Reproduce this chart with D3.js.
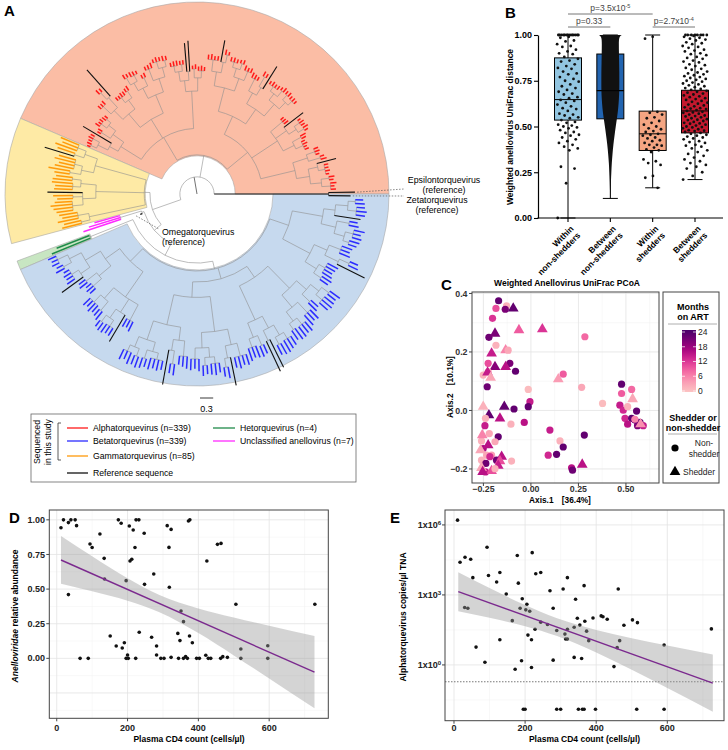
<!DOCTYPE html>
<html><head><meta charset="utf-8"><title>Anellovirus figure</title>
<script src="https://cdn.jsdelivr.net/npm/d3@7/dist/d3.min.js"></script>
<style>html,body{margin:0;padding:0;background:#fff;}svg{display:block;}</style>
</head><body>
<svg id="fig" width="728" height="750" xmlns="http://www.w3.org/2000/svg"></svg>
<script>
// ================= DATA =================
// Panel A: phylogeny (branch lengths in 0.01 substitutions/site; r/o/e/z = reference leaves)
const ezNewick = "(z50,e60)260";
const alphaParts = [
 "((((12,9,14)20,(10,13)18)25,((8,11,9,10)15,r45)22)30,((14,10)28,(9,12,11)20)35)80",
 "(((10,8,12,9)18,(11,14)22)28,(((9,13)15,(10,12,8)14)20,r55)30,(12,10,9)35)70",
 "((((8,10,9)12,(11,9)14)20,((12,8)16,(10,9,11,8)12)18)35,((r60,(10,12)25)20,(9,11,13)30)28)40",
 "(((11,9,12)22,((10,8)14,(9,11,10)12)20)30,(((8,12)18,r50)24,(10,9,13,11)26)32)55",
 "(((9,12,10)16,(11,8)20)30,((r70,r65)20,((10,9)15,(12,11,9)14)22)25)85",
 "((((10,12)14,(9,11,8)16)22,(13,10,9)28)32,((11,9)20,((8,10,12)15,(9,11)18)20)26)45",
 "(((12,9)18,(10,11,8,9)14)25,((r80,(10,12)20)30,(11,9,10)24)28)40",
 "((((9,11)12,(10,8,12)15)20,(11,9)24)30,(r75,((10,12,9)16,(11,8)14)25)22)55"
];
const alphaNewick = "((" + alphaParts[0] + "," + alphaParts[1] + ",(" + alphaParts[2] + "," + alphaParts[3] + ")45)60,(" +
  alphaParts[4] + ",(" + alphaParts[5] + "," + alphaParts[6] + ")50," + alphaParts[7] + ")60)50";
const gammaParts = [
 "(((45,38,52)20,(42,r70)22)30,((40,48,36,44)18,(50,35)25)28)120",
 "(((38,45)20,(48,40,42)18)35,(r80,(45,36)22,(40,50,44,38)24)30)110",
 "((42,36,48)25,(40,46)20)130"
];
const gammaNewick = "(" + gammaParts.join(",") + ")13";
const unclOmegaNewick = "((60,75,90)50,o5)5";
const hetNewick = "(80,95)105";
const betaParts = [
 "((((20,15,18)25,(16,22)20)30,((14,19,17,21)18,r60)25)40,((18,22)30,(15,20,17)25)35)40",
 "(((22,18,25,20)22,(19,24)26)32,(((17,21)18,(23,19,20)16)24,r70)35,(21,18,24)40)70",
 "((((25,20,28)15,(22,26)18)25,((24,19)20,(27,22,25,21)15)22)45,((r80,(22,26)30)25,(20,24,28)35)30)70",
 "(((26,22,28)25,((24,20)18,(25,27,22)15)22)35,(((21,26)20,r65)28,(24,28,22,25)30)36)80",
 "(((30,25,28)20,(26,22)24)35,((r75,r70)25,((24,28)18,(30,26,23)16)26)30)85",
 "((((25,30)16,(28,24,26)18)26,(30,24,27)32)36,((26,22)24,((25,29,27)18,(23,28)20)24)30)70",
 "(((22,26)20,(25,21,24,27)16)30,((r70,(24,20)24)34,(26,22,25)28)32)70",
 "((((20,24)14,(22,18,25)18)24,(23,19)28)34,(r60,((21,24,19)20,(22,18)16)28)26)70"
];
const betaNewick = "((" + betaParts[0] + "," + betaParts[1] + ")40,((" + betaParts[2] + "," + betaParts[3] + ")35,(" +
  betaParts[4] + "," + betaParts[5] + ")30)25,(" + betaParts[6] + "," + betaParts[7] + ")45)18";
const backboneNewick = "(EZ,ALPHA,(GAMMA,(UO,(HET,BETA)30)20)68)39";
const scaleBarValue = 0.3;
const legendLeft = ["Alphatorquevirus (n=339)", "Betatorquevirus (n=339)", "Gammatorquevirus (n=85)", "Reference sequence"];
const legendRight = ["Hetorquevirus (n=4)", "Unclassified anellovirus (n=7)"];

// Panel B: weighted UniFrac distances
const boxCategories = [["Within","non-shedders"],["Between","non-shedders"],["Within","shedders"],["Between","shedders"]];
const boxQ1 = [0.535, 0.542, 0.369, 0.465];
const boxMedian = [0.647, 0.696, 0.46, 0.585];
const boxQ3 = [0.875, 0.896, 0.584, 0.698];
const whiskerLow = [0.0, 0.107, 0.165, 0.21];
const whiskerHigh = [1.0, 1.0, 1.0, 1.0];
const bTicks = [0, 0.25, 0.5, 0.75, 1];
const withinNonShedders = [1,1,1,1,1,1,1,1,1,1,1,1,1,0.99,0.985,0.97,0.965,0.95,0.94,0.935,0.92,0.91,0.9,0.895,0.88,0.87,0.86,0.855,0.84,0.83,0.82,0.815,0.8,0.79,0.785,0.77,0.76,0.75,0.745,0.73,0.72,0.71,0.7,0.69,0.68,0.675,0.66,0.655,0.645,0.64,0.63,0.62,0.61,0.6,0.595,0.585,0.57,0.565,0.56,0.55,0.545,0.535,0.525,0.52,0.51,0.505,0.5,0.495,0.49,0.48,0.47,0.465,0.455,0.45,0.44,0.43,0.42,0.41,0.4,0.39,0.38,0.37,0.28,0.27,0.19,0.0];
const betweenNonShedBinValue = [0.11,0.15,0.2,0.25,0.3,0.35,0.4,0.45,0.5,0.55,0.6,0.65,0.7,0.75,0.8,0.85,0.9,0.95,0.99,1.0];
const betweenNonShedBinCount = [2,5,8,14,20,30,42,58,75,95,110,120,125,125,125,122,120,118,120,160];
const withinShedders = [0.99,0.98,0.58,0.575,0.565,0.55,0.545,0.53,0.52,0.51,0.5,0.49,0.485,0.475,0.47,0.46,0.455,0.45,0.44,0.435,0.425,0.42,0.41,0.4,0.4,0.395,0.385,0.375,0.37,0.36,0.32,0.31,0.3,0.29,0.23,0.22,0.165];
const betweenShedders = [1,1,1,1,1,1,1,1,0.995,0.99,0.985,0.98,0.975,0.97,0.96,0.955,0.95,0.94,0.935,0.93,0.92,0.915,0.91,0.9,0.895,0.89,0.88,0.875,0.87,0.86,0.855,0.85,0.84,0.835,0.83,0.82,0.815,0.81,0.8,0.795,0.79,0.785,0.78,0.775,0.77,0.765,0.76,0.755,0.75,0.745,0.74,0.735,0.73,0.725,0.72,0.715,0.71,0.705,0.7,0.695,0.69,0.685,0.68,0.675,0.67,0.665,0.66,0.655,0.65,0.645,0.64,0.635,0.63,0.625,0.62,0.615,0.61,0.605,0.6,0.598,0.595,0.59,0.585,0.58,0.577,0.575,0.57,0.565,0.56,0.557,0.555,0.55,0.545,0.54,0.537,0.535,0.53,0.525,0.52,0.517,0.515,0.51,0.505,0.5,0.497,0.495,0.49,0.485,0.48,0.477,0.475,0.47,0.465,0.46,0.455,0.45,0.445,0.44,0.435,0.43,0.42,0.415,0.41,0.4,0.395,0.39,0.38,0.37,0.36,0.35,0.34,0.33,0.32,0.31,0.3,0.29,0.28,0.27,0.25,0.23,0.21];
const sigTests = [
  {from:0, to:2, base:"p=3.5x10", exp:"-5", level:2},
  {from:0, to:1, base:"p=0.33", exp:"", level:1},
  {from:2, to:3, base:"p=2.7x10", exp:"-4", level:1}
];

// Panel C: PCoA  [Axis.1, Axis.2, months on ART, shedder(1)/non-shedder(0)]
const pcoaPoints = [
 [-0.170,0.375,22,0],[-0.184,0.349,10,0],[-0.128,0.358,2,0],[-0.135,0.346,20,0],[-0.093,0.349,22,1],
 [-0.202,0.315,12,0],[-0.221,0.250,21,0],[-0.189,0.263,20,1],[-0.063,0.275,9,1],[0.060,0.278,12,1],
 [0.284,0.252,8,0],[-0.184,0.223,2,0],[-0.133,0.206,6,1],[-0.120,0.206,3,0],[-0.207,0.195,14,1],
 [-0.111,0.161,20,0],[-0.081,0.134,22,0],[-0.189,0.149,19,1],[-0.133,0.149,15,1],[-0.225,0.161,10,0],
 [-0.251,0.121,2,0],[-0.225,0.132,4,0],[-0.228,0.130,14,1],[-0.230,0.081,21,0],[-0.212,0.112,3,1],
 [-0.014,0.072,1,0],[-0.005,0.030,14,0],[-0.014,0.013,22,0],[0.170,0.124,9,0],[0.144,0.107,4,1],
 [0.267,0.079,3,0],[0.377,0.024,1,0],[-0.251,0.013,2,1],[-0.140,0.013,22,1],[-0.089,0.005,22,0],
 [-0.221,-0.016,22,1],[-0.163,-0.027,15,1],[-0.239,-0.027,2,0],[-0.242,-0.052,14,0],[-0.035,-0.041,15,0],
 [-0.105,-0.047,2,0],[-0.172,-0.090,22,0],[0.153,-0.104,2,0],[0.100,-0.067,14,0],[0.281,-0.084,22,0],
 [0.170,-0.125,22,0],[0.135,-0.150,22,0],[0.091,-0.153,13,0],[0.214,-0.196,15,0],[0.219,-0.204,21,0],
 [0.270,-0.185,15,1],[0.477,0.090,22,0],[0.477,0.058,9,0],[0.530,0.072,8,0],[0.468,0.018,14,0],
 [0.486,0.001,13,0],[0.509,0.013,2,0],[0.535,0.039,3,1],[0.495,-0.027,13,0],[0.556,-0.002,22,0],
 [0.530,-0.027,22,0],[0.547,-0.033,21,0],[0.574,-0.041,23,0],[0.561,-0.052,20,0],[0.509,-0.047,15,0],
 [0.591,-0.052,14,0],[0.547,-0.030,6,0],[0.577,-0.047,5,1],[-0.260,-0.104,2,0],[-0.251,-0.130,16,0],
 [-0.265,-0.136,3,1],[-0.225,-0.119,15,1],[-0.233,-0.153,3,0],[-0.207,-0.153,4,0],[-0.260,-0.170,2,0],
 [-0.237,-0.181,21,0],[-0.181,-0.170,21,0],[-0.154,-0.158,15,1],[-0.163,-0.173,10,1],[-0.172,-0.189,14,1],
 [-0.239,-0.210,14,0],[-0.207,-0.207,10,1],[-0.260,-0.196,3,1],[-0.102,-0.173,2,0],[-0.189,-0.199,2,0],
 [-0.189,-0.107,3,0],[-0.219,-0.079,3,0],[-0.256,-0.084,6,1],[-0.216,-0.158,13,0],[-0.254,-0.210,15,1]
];
const cXTicks = [-0.25, 0, 0.25, 0.5];
const cYTicks = [-0.2, 0, 0.2, 0.4];
const monthsTicks = [0, 6, 12, 18, 24];

// Panel D: CD4 count vs Anelloviridae relative abundance
const cd4VsAbundance = [
 [12,0.943],[19,1],[33,0.98],[40,1],[52,1],[56,0.958],[33,0.46],[66,0],[89,0],[122,0.898],[94,0.826],[100,0.8],
 [134,0.722],[135,0.573],[151,0.161],[168,0.089],[174,1],[182,0.975],[185,0.075],[191,0.113],[196,0.561],[196,0],
 [200,0.024],[202,0],[205,0.955],[207,0.703],[212,0.715],[216,0.927],[221,0.8],[223,0],[224,1],[232,1],[233,0.188],
 [247,0.903],[248,0.534],[268,0.152],[274,0.609],[282,0.089],[282,0.024],[294,0],[303,0],[312,0.958],[317,0.801],
 [318,0.513],[323,0.931],[323,0.007],[342,0.18],[344,0],[348,0.128],[351,0.342],[358,0.265],[358,0],[364,0.012],
 [369,0],[372,0.992],[376,1],[375,0.161],[383,0.113],[395,0],[403,0],[421,0.022],[424,0.703],[428,0],[435,0],
 [454,0.823],[464,0.83],[463,0],[469,0.012],[482,0.007],[506,0.39],[520,0.067],[520,0],[596,0.091],[596,0],[729,0.39]
];
const fitD = [[12, 0.71], [728, -0.10]];
const bandDx = [12, 100, 200, 290, 400, 500, 600, 728];
const bandDlow = [0.538, 0.484, 0.416, 0.333, 0.182, 0.021, -0.145, -0.361];
const bandDhigh = [0.883, 0.737, 0.578, 0.457, 0.360, 0.294, 0.235, 0.161];
const dYTicks = [0, 0.25, 0.5, 0.75, 1];
const cd4Ticks = [0, 200, 400, 600];

// Panel E: CD4 count vs Alphatorquevirus copies/µl TNA (0 = not detected)
const cd4VsAlpha = [
 [10,1.6e6],[17,2.5e4],[31,4.1e4],[47,3.4e4],[53,5.5e3],[30,290],[39,270],[62,5.8],[87,1.3],[93,1.1e5],[97,6.8e3],
 [120,3.6e3],[129,9.1e3],[129,12],[147,1.1e3],[164,79],[172,0.65],[178,4.9e4],[181,3.2e3],[190,1.5],[218,0.78],
 [186,270],[192,690],[202,230],[205,400],[213,200],[208,19],[218,12],[220,6.5e4],[228,34],[230,8.1e3],[244,9.1e3],
 [244,68],[263,54],[270,1.5e3],[279,270],[279,1.6],[289,30],[307,1.8e3],[312,21],[314,13],[319,13],[319,5.5e3],
 [319,34],[338,41],[338,2.1],[342,650],[347,100],[354,51],[359,1.9],[366,2.5e3],[368,74],[373,28],[379,11],
 [391,102],[414,126],[419,117],[431,91],[450,0.85],[459,5.5],[462,1.8e3],[466,11],[478,50],[502,85],[516,65],
 [591,7.2],[724,35],
 [195,0],[200,0],[289,0],[300,0],[350,0],[361,0],[366,0],[398,0],[514,0],[591,0]
];
const fitE = [[12, 1380], [728, 0.166]];
const bandEx = [12, 100, 200, 290, 400, 500, 600, 728];
const bandElow = [202, 105, 45.6, 17.2, 3.41, 0.615, 0.102, 0.0098];
const bandEhigh = [9440, 1970, 366, 100, 31.5, 14.0, 6.81, 2.82];
const detectionLimitE = 0.19;
const notDetectedPlotValue = 0.0126;
const eYTicks = [{v:1, e:"0"}, {v:1e3, e:"3"}, {v:1e6, e:"6"}];

// ================= DRAWING =================
const FF = "'Liberation Sans', Arial, Helvetica, sans-serif";
const svg = d3.select("#fig").style("font-family", FF);

function label(x, y, s, size, opts) {
  opts = opts || {};
  const t = svg.append("text").attr("x", x).attr("y", y).attr("font-size", size)
    .attr("font-weight", opts.bold ? "bold" : "normal").attr("fill", opts.fill || "#000")
    .attr("text-anchor", opts.anchor || "start").text(s);
  if (opts.dy) t.attr("dy", opts.dy);
  if (opts.rotate) t.attr("transform", `rotate(${opts.rotate},${x},${y})`);
  return t;
}
[["A",4,16],["B",505,18],["C",441,290],["D",9,523],["E",390,523]].forEach(p => label(p[1], p[2], p[0], 15, {bold:true}));

// ---------- Panel A: circular phylogram ----------
function parseNewick(s) {
  let i = 0;
  function node() {
    const n = {children: []};
    if (s[i] === "(") {
      i++;
      n.children.push(node());
      while (s[i] === ",") { i++; n.children.push(node()); }
      i++;
    }
    const m = /^([A-Za-z]*)(\d*)/.exec(s.slice(i));
    i += m[0].length;
    n.tag = m[1]; n.len = m[2] ? (+m[2]) / 100 : 0;
    return n;
  }
  return node();
}
function tagClade(n, c) { n.clade = c; n.children.forEach(ch => tagClade(ch, c)); return n; }
const cladeTrees = {
  EZ: tagClade(parseNewick(ezNewick), "ref"),
  ALPHA: tagClade(parseNewick(alphaNewick), "alpha"),
  GAMMA: tagClade(parseNewick(gammaNewick), "gamma"),
  UO: tagClade(parseNewick(unclOmegaNewick), "uncl"),
  HET: tagClade(parseNewick(hetNewick), "het"),
  BETA: tagClade(parseNewick(betaNewick), "beta")
};
function substitute(n) {
  if (!n.children.length && cladeTrees[n.tag]) return cladeTrees[n.tag];
  n.clade = "backbone";
  n.children = n.children.map(substitute);
  return n;
}
const treeData = substitute(parseNewick(backboneNewick));
const root = d3.hierarchy(treeData, d => d.children.length ? d.children : null);
root.eachBefore(d => { d.rad = (d.parent ? d.parent.rad : 0) + d.data.len; });
const leaves = root.leaves();
const N = leaves.length, step = 360 / N, theta0 = 0.7;
const thetaS = d3.scaleLinear().domain([0, N]).range([theta0, theta0 - 360]);
leaves.forEach((d, i) => { d.theta = thetaS(i); });
root.eachAfter(d => { if (d.children) d.theta = (d.children[0].theta + d.children[d.children.length - 1].theta) / 2; });

const cx = 197, cy = 194, outerR = 192;
const rS = d3.scaleLinear().domain([0, 1]).range([0, 44]);
const P = (r, t) => [cx + rS(r) * Math.cos(t * Math.PI / 180), cy + rS(r) * Math.sin(t * Math.PI / 180)];
const gA = svg.append("g");

const wedges = [
  {key:"ALPHA", fill:"#fbbda5", hi:0},
  {key:"GAMMA", fill:"#feeaa5"},
  {key:"HET", fill:"#c8e6c2"},
  {key:"BETA", fill:"#c6d9ee", lo:-360}
];
wedges.forEach(w => {
  const node = root.descendants().find(d => d.data === cladeTrees[w.key]);
  const lv = node.leaves();
  let hi = lv[0].theta + step / 2, lo = lv[lv.length - 1].theta - step / 2;
  if (w.hi !== undefined) hi = w.hi;
  if (w.lo !== undefined) lo = w.lo;
  const path = d3.arc()({innerRadius: rS(node.rad) - 1, outerRadius: outerR,
    startAngle: (lo + 90) * Math.PI / 180, endAngle: (hi + 90) * Math.PI / 180});
  gA.append("path").attr("d", path).attr("transform", `translate(${cx},${cy})`)
    .attr("fill", w.fill).attr("stroke", "#a8a8a8").attr("stroke-width", 0.6);
});

const tipColor = {alpha:"#ff1a1a", beta:"#2b2bff", gamma:"#ff9a0a", het:"#1f8a4a", uncl:"#ff2bff", ref:"#111"};
const isRefLeaf = d => ["r", "o", "e", "z"].includes(d.data.tag);
function edgeColor(d) {
  if (!d.parent) return "#111";
  if (!d.children) return isRefLeaf(d) ? "#111" : tipColor[d.data.clade];
  return d.data.clade === "ref" ? "#111" : "#8f8f8f";
}
const gBr = gA.append("g").attr("fill", "none").attr("stroke-linecap", "butt");
root.descendants().forEach(d => {
  const p0 = P(d.parent ? d.parent.rad : 0, d.theta), p1 = P(d.rad, d.theta);
  const w = d.children ? (d.data.clade === "ref" ? 1 : 0.6) : (isRefLeaf(d) ? 1.1 : 1.5);
  gBr.append("line").attr("x1", p0[0]).attr("y1", p0[1]).attr("x2", p1[0]).attr("y2", p1[1])
    .attr("stroke", edgeColor(d)).attr("stroke-width", w);
  if (d.children && d.children.length > 1) {
    const a0 = d.children[0].theta, a1 = d.children[d.children.length - 1].theta;
    const q0 = P(d.rad, a0), q1 = P(d.rad, a1), rr = rS(d.rad);
    const large = Math.abs(a0 - a1) > 180 ? 1 : 0;
    gBr.append("path").attr("d", `M${q0[0]},${q0[1]}A${rr},${rr} 0 ${large} 0 ${q1[0]},${q1[1]}`)
      .attr("stroke", d.data.clade === "ref" ? "#111" : "#8f8f8f").attr("stroke-width", 0.6);
  }
});
const leafE = leaves.find(d => d.data.tag === "e"), leafZ = leaves.find(d => d.data.tag === "z"), leafO = leaves.find(d => d.data.tag === "o");
[[leafE, 189], [leafZ, 196]].forEach(([lf, yy]) => {
  const p = P(lf.rad + 0.05, lf.theta);
  gA.append("line").attr("x1", p[0]).attr("y1", p[1]).attr("x2", 404).attr("y2", yy)
    .attr("stroke", "#555").attr("stroke-width", 0.7).attr("stroke-dasharray", "1.5,1.5");
});
{
  const p = P(leafO.rad + 0.1, leafO.theta);
  gA.append("line").attr("x1", p[0]).attr("y1", p[1]).attr("x2", 159).attr("y2", 229)
    .attr("stroke", "#555").attr("stroke-width", 0.7).attr("stroke-dasharray", "1.5,1.5");
}
label(444, 180, "Epsilontorquevirus", 8.8, {anchor:"middle", dy:"0.35em"});
label(444, 190, "(reference)", 8.8, {anchor:"middle", dy:"0.35em"});
label(437, 199.5, "Zetatorquevirus", 8.8, {anchor:"middle", dy:"0.35em"});
label(437, 209.5, "(reference)", 8.8, {anchor:"middle", dy:"0.35em"});
label(162, 232, "Omegatorquevirus", 8.8, {dy:"0.35em"});
label(162, 242, "(reference)", 8.8, {dy:"0.35em"});
svg.append("line").attr("x1", 200).attr("x2", 200 + rS(scaleBarValue)).attr("y1", 398).attr("y2", 398).attr("stroke", "#222").attr("stroke-width", 0.9);
label(200 + rS(scaleBarValue) / 2, 409, String(scaleBarValue), 9, {anchor:"middle", dy:"0.35em"});
svg.append("rect").attr("x", 31).attr("y", 414).attr("width", 325).attr("height", 68).attr("fill", "#fff").attr("stroke", "#666").attr("stroke-width", 0.8);
label(37, 442, "Sequenced", 8.7, {anchor:"middle", dy:"0.35em", rotate:-90});
label(47.5, 442, "in this study", 8.7, {anchor:"middle", dy:"0.35em", rotate:-90});
svg.append("path").attr("d", "M61,423H58V460H61").attr("fill", "none").attr("stroke", "#333").attr("stroke-width", 0.8);
const legColsL = ["#ff1a1a", "#2b2bff", "#ff9a0a", "#111"], legYL = [428, 441, 456, 473];
legendLeft.forEach((s, i) => {
  svg.append("line").attr("x1", 67).attr("x2", 88).attr("y1", legYL[i]).attr("y2", legYL[i]).attr("stroke", legColsL[i]).attr("stroke-width", 1.3);
  label(93, legYL[i], s, 8.7, {dy:"0.35em"});
});
const legColsR = ["#1f8a4a", "#ff2bff"];
legendRight.forEach((s, i) => {
  svg.append("line").attr("x1", 213).attr("x2", 235).attr("y1", legYL[i]).attr("y2", legYL[i]).attr("stroke", legColsR[i]).attr("stroke-width", 1.3);
  label(240, legYL[i], s, 8.7, {dy:"0.35em"});
});

// ---------- Panel B: box plots ----------
const yB = d3.scaleLinear().domain([0, 1]).range([218, 35]);
const xB = d3.scalePoint().domain(d3.range(boxCategories.length)).range([568, 695]);
const boxFill = ["#92c5e0", "#2264b0", "#f4a582", "#c3192e"];
const boxW = 27, capW = 15;
const gB = svg.append("g");
function jitter(i, w) { const f = (i * 0.6180339887 + 0.5) % 1; return (f - 0.5) * w; }
boxCategories.forEach((c, i) => {
  const x = xB(i);
  gB.append("line").attr("x1", x).attr("x2", x).attr("y1", yB(whiskerLow[i])).attr("y2", yB(whiskerHigh[i])).attr("stroke", "#000").attr("stroke-width", 1);
  [whiskerLow[i], whiskerHigh[i]].forEach(v => gB.append("line").attr("x1", x - capW / 2).attr("x2", x + capW / 2).attr("y1", yB(v)).attr("y2", yB(v)).attr("stroke", "#000").attr("stroke-width", 1));
  gB.append("rect").attr("x", x - boxW / 2).attr("y", yB(boxQ3[i])).attr("width", boxW).attr("height", yB(boxQ1[i]) - yB(boxQ3[i]))
    .attr("fill", boxFill[i]).attr("stroke", "#000").attr("stroke-width", 1);
  gB.append("line").attr("x1", x - boxW / 2).attr("x2", x + boxW / 2).attr("y1", yB(boxMedian[i])).attr("y2", yB(boxMedian[i])).attr("stroke", "#000").attr("stroke-width", 1);
});
const massW = d3.scaleLinear().domain([0, 160]).range([0, 11.5]);
const massData = betweenNonShedBinValue.map((v, i) => [v, betweenNonShedBinCount[i]]);
gB.append("path").datum(massData).attr("fill", "#111")
  .attr("d", d3.area().curve(d3.curveBasis).y(d => yB(d[0])).x0(d => xB(1) - massW(d[1])).x1(d => xB(1) + massW(d[1])));
gB.append("line").attr("x1", xB(1) - boxW / 2).attr("x2", xB(1) + boxW / 2).attr("y1", yB(boxMedian[1])).attr("y2", yB(boxMedian[1])).attr("stroke", "#000").attr("stroke-width", 1);
[[0, withinNonShedders, 22], [2, withinShedders, 20], [3, betweenShedders, 25]].forEach(([ci, vals, w]) => {
  gB.selectAll(null).data(vals).join("circle").attr("cx", (d, j) => xB(ci) + jitter(j, w)).attr("cy", d => yB(d)).attr("r", 1.4).attr("fill", "#111");
});
const axB = svg.append("g").attr("transform", "translate(538,0)")
  .call(d3.axisLeft(yB).tickValues(bTicks).tickFormat(d3.format(".2f")).tickSize(4).tickSizeOuter(0));
axB.select(".domain").attr("stroke", "#000").attr("stroke-width", 1.2);
axB.selectAll(".tick line").attr("stroke", "#000").attr("stroke-width", 1.1);
axB.selectAll(".tick text").attr("font-family", FF).attr("font-size", 9).attr("font-weight", "bold").attr("fill", "#000").attr("x", -6);
svg.append("line").attr("x1", 537.4).attr("x2", 723).attr("y1", 218).attr("y2", 218).attr("stroke", "#000").attr("stroke-width", 1.2);
boxCategories.forEach((c, i) => {
  svg.append("line").attr("x1", xB(i)).attr("x2", xB(i)).attr("y1", 218).attr("y2", 222).attr("stroke", "#000").attr("stroke-width", 1.1);
  const t = svg.append("text").attr("transform", `translate(${xB(i) + 2},${225}) rotate(-45)`)
    .attr("text-anchor", "end").attr("font-size", 8.5).attr("font-weight", "bold");
  t.append("tspan").attr("x", 0).attr("dy", "0.7em").text(c[0]);
  t.append("tspan").attr("x", 0).attr("dy", "1.12em").text(c[1]);
});
label(510, 127, "Weighted anellovirus UniFrac distance", 8.5, {bold:true, anchor:"middle", rotate:-90, dy:"0.35em"});
const sigY = {1: 27, 2: 14};
sigTests.forEach(s => {
  const y = sigY[s.level];
  svg.append("line").attr("x1", xB(s.from)).attr("x2", xB(s.to)).attr("y1", y).attr("y2", y).attr("stroke", "#666").attr("stroke-width", 0.9);
  const t = svg.append("text").attr("x", (xB(s.from) + xB(s.to)) / 2).attr("y", y - 3).attr("text-anchor", "middle").attr("font-size", 8.5).attr("fill", "#444");
  t.append("tspan").text(s.base);
  if (s.exp) t.append("tspan").attr("dy", -3.5).attr("font-size", 5.5).text(s.exp);
});

// ---------- Panel C: PCoA ----------
const xC = d3.scaleLinear().domain([-0.31, 0.674]).range([472, 659]);
const yC = d3.scaleLinear().domain([-0.248, 0.405]).range([483, 292]);
const monthsColor = v => d3.interpolateRdPu(0.25 + 0.75 * v / 24);
const gC = svg.append("g");
gC.append("rect").attr("x", 472).attr("y", 292).attr("width", 187).attr("height", 191).attr("fill", "#fff");
[-0.125, 0.125, 0.375, 0.625].forEach(v => gC.append("line").attr("x1", xC(v)).attr("x2", xC(v)).attr("y1", 292).attr("y2", 483).attr("stroke", "#f0f0f0").attr("stroke-width", 0.5));
[-0.1, 0.1, 0.3].forEach(v => gC.append("line").attr("y1", yC(v)).attr("y2", yC(v)).attr("x1", 472).attr("x2", 659).attr("stroke", "#f0f0f0").attr("stroke-width", 0.5));
cXTicks.forEach(v => gC.append("line").attr("x1", xC(v)).attr("x2", xC(v)).attr("y1", 292).attr("y2", 483).attr("stroke", "#e3e3e3").attr("stroke-width", 0.8));
cYTicks.forEach(v => gC.append("line").attr("y1", yC(v)).attr("y2", yC(v)).attr("x1", 472).attr("x2", 659).attr("stroke", "#e3e3e3").attr("stroke-width", 0.8));
const triSym = d3.symbol().type(d3.symbolTriangle).size(50);
pcoaPoints.forEach(p => {
  if (p[3]) gC.append("path").attr("d", triSym).attr("transform", `translate(${xC(p[0])},${yC(p[1])})`).attr("fill", monthsColor(p[2]));
  else gC.append("circle").attr("cx", xC(p[0])).attr("cy", yC(p[1])).attr("r", 3.6).attr("fill", monthsColor(p[2]));
});
gC.append("rect").attr("x", 472).attr("y", 292).attr("width", 187).attr("height", 191).attr("fill", "none").attr("stroke", "#444").attr("stroke-width", 1);
cXTicks.forEach(v => {
  gC.append("line").attr("x1", xC(v)).attr("x2", xC(v)).attr("y1", 483).attr("y2", 486).attr("stroke", "#444");
  label(xC(v), 489, d3.format(".2f")(v).replace("-", "\u2212"), 8.8, {bold:true, anchor:"middle", dy:"0.35em", fill:"#333"});
});
cYTicks.forEach(v => {
  gC.append("line").attr("x1", 469).attr("x2", 472).attr("y1", yC(v)).attr("y2", yC(v)).attr("stroke", "#444");
  label(467.5, yC(v), d3.format(".1f")(v).replace("-", "\u2212"), 8.8, {bold:true, anchor:"end", dy:"0.35em", fill:"#333"});
});
label(567, 286, "Weighted Anellovirus UniFrac PCoA", 8.5, {bold:true, anchor:"middle"});
label(560, 500.5, "Axis.1\u2003[36.4%]", 8.3, {bold:true, anchor:"middle", dy:"0.35em"});
label(450, 387, "Axis.2\u2003[10.1%]", 8.3, {bold:true, anchor:"middle", dy:"0.35em", rotate:-90});
gC.append("rect").attr("x", 663).attr("y", 292).attr("width", 56).attr("height", 191).attr("fill", "#fff").attr("stroke", "#444").attr("stroke-width", 1);
label(693, 307, "Months", 9, {bold:true, anchor:"middle", dy:"0.35em"});
label(693, 317, "on ART", 9, {bold:true, anchor:"middle", dy:"0.35em"});
gC.append("line").attr("x1", 668).attr("x2", 717).attr("y1", 324).attr("y2", 324).attr("stroke", "#999").attr("stroke-width", 0.8);
const defs = svg.append("defs");
const grad = defs.append("linearGradient").attr("id", "monthsGrad").attr("x1", 0).attr("y1", 1).attr("x2", 0).attr("y2", 0);
d3.range(0, 25, 2).forEach(v => grad.append("stop").attr("offset", v / 24).attr("stop-color", monthsColor(v)));
const yBar = d3.scaleLinear().domain([0, 24]).range([391, 332]);
gC.append("rect").attr("x", 682).attr("y", 330).attr("width", 14).attr("height", 62).attr("fill", "url(#monthsGrad)");
monthsTicks.forEach(v => {
  gC.append("line").attr("x1", 682).attr("x2", 685).attr("y1", yBar(v)).attr("y2", yBar(v)).attr("stroke", "#fff").attr("stroke-width", 0.7);
  gC.append("line").attr("x1", 693).attr("x2", 696).attr("y1", yBar(v)).attr("y2", yBar(v)).attr("stroke", "#fff").attr("stroke-width", 0.7);
  label(698, yBar(v), String(v), 8.5, {dy:"0.35em", fill:"#222"});
});
label(693, 418, "Shedder or", 9, {bold:true, anchor:"middle", dy:"0.35em"});
label(693, 427.5, "non-shedder", 9, {bold:true, anchor:"middle", dy:"0.35em"});
gC.append("line").attr("x1", 668).attr("x2", 717).attr("y1", 434).attr("y2", 434).attr("stroke", "#999").attr("stroke-width", 0.8);
gC.append("circle").attr("cx", 675).attr("cy", 448).attr("r", 3.6).attr("fill", "#000");
label(704, 443, "Non-", 8.5, {anchor:"middle", dy:"0.35em", fill:"#222"});
label(704, 454, "shedder", 8.5, {anchor:"middle", dy:"0.35em", fill:"#222"});
gC.append("path").attr("d", triSym).attr("transform", "translate(675,472)").attr("fill", "#000");
label(683, 472, "Shedder", 8.5, {dy:"0.35em", fill:"#222"});

// ---------- Panels D and E ----------
function ggPanel(x0, y0, x1, y1, xS, yS, xMajor, xMinor, yMajor, yMinor) {
  const g = svg.append("g");
  g.append("rect").attr("x", x0).attr("y", y0).attr("width", x1 - x0).attr("height", y1 - y0).attr("fill", "#fff");
  xMinor.forEach(v => g.append("line").attr("x1", xS(v)).attr("x2", xS(v)).attr("y1", y0).attr("y2", y1).attr("stroke", "#f0f0f0").attr("stroke-width", 0.5));
  yMinor.forEach(v => g.append("line").attr("y1", yS(v)).attr("y2", yS(v)).attr("x1", x0).attr("x2", x1).attr("stroke", "#f0f0f0").attr("stroke-width", 0.5));
  xMajor.forEach(v => g.append("line").attr("x1", xS(v)).attr("x2", xS(v)).attr("y1", y0).attr("y2", y1).attr("stroke", "#e3e3e3").attr("stroke-width", 0.8));
  yMajor.forEach(v => g.append("line").attr("y1", yS(v)).attr("y2", yS(v)).attr("x1", x0).attr("x2", x1).attr("stroke", "#e3e3e3").attr("stroke-width", 0.8));
  return g;
}
function frame(g, x0, y0, x1, y1) {
  g.append("rect").attr("x", x0).attr("y", y0).attr("width", x1 - x0).attr("height", y1 - y0).attr("fill", "none").attr("stroke", "#444").attr("stroke-width", 1);
}
const xD = d3.scaleLinear().domain([-21, 767]).range([49.3, 328.3]);
const yD = d3.scaleLinear().domain([-0.433, 1.071]).range([718.3, 510]);
const gD = ggPanel(49.3, 510, 328.3, 718.3, xD, yD, cd4Ticks, [100, 300, 500, 700], [-0.25, 0, 0.25, 0.5, 0.75, 1], [-0.375, -0.125, 0.125, 0.375, 0.625, 0.875]);
gD.selectAll(null).data(cd4VsAbundance).join("circle").attr("cx", d => xD(d[0])).attr("cy", d => yD(d[1])).attr("r", 1.8).attr("fill", "#111");
const bandD = bandDx.map((x, i) => [x, bandDlow[i], bandDhigh[i]]);
gD.append("path").datum(bandD).attr("fill", "#999").attr("fill-opacity", 0.42)
  .attr("d", d3.area().curve(d3.curveMonotoneX).x(d => xD(d[0])).y0(d => yD(d[1])).y1(d => yD(d[2])));
gD.append("line").attr("x1", xD(fitD[0][0])).attr("y1", yD(fitD[0][1])).attr("x2", xD(fitD[1][0])).attr("y2", yD(fitD[1][1])).attr("stroke", "#7b2a8e").attr("stroke-width", 1.4);
frame(gD, 49.3, 510, 328.3, 718.3);
dYTicks.forEach(v => {
  gD.append("line").attr("x1", 46.3).attr("x2", 49.3).attr("y1", yD(v)).attr("y2", yD(v)).attr("stroke", "#444");
  label(45, yD(v), d3.format(".2f")(v), 9, {bold:true, anchor:"end", dy:"0.35em", fill:"#222"});
});
cd4Ticks.forEach(v => {
  gD.append("line").attr("x1", xD(v)).attr("x2", xD(v)).attr("y1", 718.3).attr("y2", 721.3).attr("stroke", "#444");
  label(xD(v), 728, String(v), 9, {bold:true, anchor:"middle", dy:"0.35em", fill:"#222"});
});
label(189, 739.5, "Plasma CD4 count (cells/\u00b5l)", 8.5, {bold:true, anchor:"middle", dy:"0.35em"});
{
  const t = svg.append("text").attr("transform", "translate(15,616) rotate(-90)").attr("text-anchor", "middle").attr("dy", "0.35em")
    .attr("font-size", 8.5).attr("font-weight", "bold");
  t.append("tspan").attr("font-style", "italic").text("Anelloviridae");
  t.append("tspan").text(" relative abundance");
}
const xE = d3.scaleLinear().domain([-25.3, 759.5]).range([445, 724]);
const yE = d3.scaleLog().domain([Math.pow(10, -2.39), Math.pow(10, 6.64)]).range([720.7, 510]);
const gE = ggPanel(445, 510, 724, 720.7, xE, yE, cd4Ticks, [100, 300, 500, 700], [1, 1e3, 1e6], [Math.pow(10, -1.5), Math.pow(10, 1.5), Math.pow(10, 4.5)]);
gE.append("line").attr("x1", 445).attr("x2", 724).attr("y1", yE(detectionLimitE)).attr("y2", yE(detectionLimitE)).attr("stroke", "#555").attr("stroke-width", 0.8).attr("stroke-dasharray", "1.5,1.5");
gE.selectAll(null).data(cd4VsAlpha).join("circle").attr("cx", d => xE(d[0])).attr("cy", d => yE(d[1] > 0 ? d[1] : notDetectedPlotValue)).attr("r", 1.8).attr("fill", "#111");
const bandE = bandEx.map((x, i) => [x, bandElow[i], bandEhigh[i]]);
gE.append("path").datum(bandE).attr("fill", "#999").attr("fill-opacity", 0.42)
  .attr("d", d3.area().curve(d3.curveMonotoneX).x(d => xE(d[0])).y0(d => yE(d[1])).y1(d => yE(d[2])));
gE.append("line").attr("x1", xE(fitE[0][0])).attr("y1", yE(fitE[0][1])).attr("x2", xE(fitE[1][0])).attr("y2", yE(fitE[1][1])).attr("stroke", "#7b2a8e").attr("stroke-width", 1.4);
frame(gE, 445, 510, 724, 720.7);
eYTicks.forEach(tk => {
  gE.append("line").attr("x1", 442).attr("x2", 445).attr("y1", yE(tk.v)).attr("y2", yE(tk.v)).attr("stroke", "#444");
  const t = svg.append("text").attr("x", 441).attr("y", yE(tk.v)).attr("dy", "0.35em").attr("text-anchor", "end").attr("font-size", 9).attr("font-weight", "bold").attr("fill", "#222");
  t.append("tspan").text("1x10");
  t.append("tspan").attr("dy", -3.5).attr("font-size", 6).text(tk.e);
});
cd4Ticks.forEach(v => {
  gE.append("line").attr("x1", xE(v)).attr("x2", xE(v)).attr("y1", 720.7).attr("y2", 723.7).attr("stroke", "#444");
  label(xE(v), 728, String(v), 9, {bold:true, anchor:"middle", dy:"0.35em", fill:"#222"});
});
label(584.5, 739.5, "Plasma CD4 count (cells/\u00b5l)", 8.5, {bold:true, anchor:"middle", dy:"0.35em"});
label(403, 617, "Alphatorquevirus copies/\u00b5l TNA", 8.5, {bold:true, anchor:"middle", dy:"0.35em", rotate:-90});
</script>
</body></html>
